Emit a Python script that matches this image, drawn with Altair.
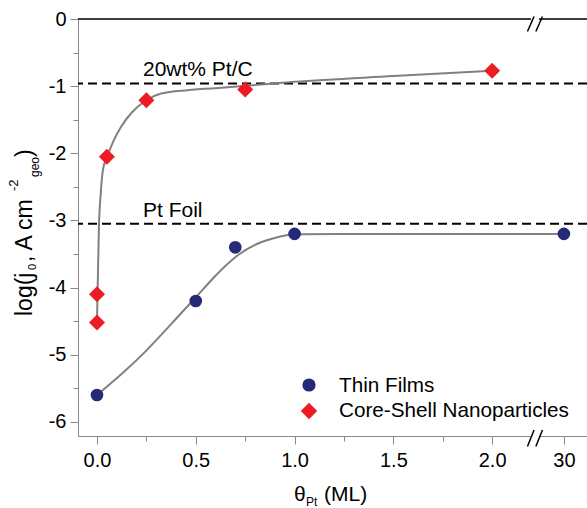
import altair as alt
import pandas as pd

# ---------------- data ----------------
TF_X = [0.0, 0.5, 0.7, 1.0, 30.0]
TF_Y = [-5.6, -4.2, -3.4, -3.2, -3.2]
CS_X = [0.0, 0.0, 0.05, 0.25, 0.75, 2.0]
CS_Y = [-4.52, -4.1, -2.05, -1.21, -1.05, -0.77]

TF_FIT_X = [0.0, 0.12, 0.24, 0.41, 0.5, 0.58, 0.70, 0.83, 0.98, 1.0, 30.0]
TF_FIT_Y = [-5.6, -5.3, -4.98, -4.43, -4.15, -3.88, -3.52, -3.30, -3.205, -3.2, -3.2]
CS_FIT_X = [0.0, 0.003, 0.010, 0.019, 0.030, 0.052, 0.086, 0.123, 0.174, 0.25,
            0.325, 0.46, 0.6, 0.75, 1.0, 1.5, 2.0]
CS_FIT_Y = [-4.52, -4.09, -3.09, -2.60, -2.25, -2.05, -1.80, -1.60, -1.40, -1.21,
            -1.11, -1.06, -1.03, -0.995, -0.935, -0.85, -0.77]

REF_NAMES = ["20wt% Pt/C", "Pt Foil"]
REF_Y = [-0.96, -3.05]
SERIES = ["Thin Films", "Core-Shell Nanoparticles"]
COLORS = ["#242a78", "#ec1c24"]

X_TICKS = [0.0, 0.5, 1.0, 1.5, 2.0, 30.0]
X_TICK_LABELS = ["0.0", "0.5", "1.0", "1.5", "2.0", "30"]
X_MINOR = [0.25, 0.75, 1.25, 1.75]
Y_TICKS = [-6, -5, -4, -3, -2, -1, 0]
Y_MINOR = [-5.5, -4.5, -3.5, -2.5, -1.5, -0.5]

# ---------------- broken x axis mapping ----------------
BREAK_AT = 2.1      # real values above this sit after the break
POS_30 = 2.363      # display position of 30
BREAK_POS = 2.2166  # display position of the "//" marks
X_DOMAIN = [-0.096, 2.48]
Y_DOMAIN = [-6.21, 0.0]


def disp(v):
    return v if v <= BREAK_AT else POS_30 + (v - 30.0) * 0.01


FONT = "Liberation Sans"
W, H = 509, 417
PAD_L, PAD_T = 78, 19

x_tick_pos = [disp(v) for v in X_TICKS]
all_x_ticks = sorted(x_tick_pos + X_MINOR)
label_map = "{" + ",".join(f"'{p:.4f}':'{l}'" for p, l in zip(x_tick_pos, X_TICK_LABELS)) + "}"
x_label_expr = f"({label_map})[format(datum.value,'.4f')] || ''"

X_SCALE = alt.Scale(domain=X_DOMAIN, nice=False, zero=False)
Y_SCALE = alt.Scale(domain=Y_DOMAIN, nice=False, zero=False)
minor_x_test = "indexof([" + ",".join(str(v) for v in X_MINOR) + "], datum.value) >= 0"
X_AXIS = alt.Axis(values=all_x_ticks, labelExpr=x_label_expr, title=None, grid=False,
                  tickSize={"condition": {"test": minor_x_test, "value": 5}, "value": 8},
                  labelPadding=6, labelFontSize=20)
Y_AXIS = alt.Axis(values=sorted(Y_TICKS + Y_MINOR),
                  labelExpr="datum.value % 1 === 0 ? '' + datum.value : ''",
                  title=None, grid=False,
                  tickSize={"condition": {"test": "datum.value % 1 !== 0", "value": 5}, "value": 8},
                  labelPadding=4, labelFontSize=20)


def xf(f):
    return alt.X(f, type="quantitative", scale=X_SCALE, axis=X_AXIS)


def yf(f):
    return alt.Y(f, type="quantitative", scale=Y_SCALE, axis=Y_AXIS)


def xd(v):
    return alt.XDatum(v, type="quantitative", scale=X_SCALE, axis=X_AXIS)


def yd(v):
    return alt.YDatum(v, type="quantitative", scale=Y_SCALE, axis=Y_AXIS)


tf = pd.DataFrame({"x": [disp(v) for v in TF_X], "y": TF_Y})
cs = pd.DataFrame({"x": [disp(v) for v in CS_X], "y": CS_Y})
tf_fit = pd.DataFrame({"x": [disp(v) for v in TF_FIT_X], "y": TF_FIT_Y})
cs_fit = pd.DataFrame({"x": [disp(v) for v in CS_FIT_X], "y": CS_FIT_Y})
refs = pd.DataFrame({"name": REF_NAMES, "y": REF_Y})

one = alt.Data(values=[{}])

layers = []

# reference dashed lines
layers.append(alt.Chart(refs).mark_rule(color="black", strokeWidth=2, strokeDash=[9, 5])
              .encode(y=yf("y")))

# top frame line
layers.append(alt.Chart(one).mark_rule(color="black", strokeWidth=1.5).encode(y=yd(0.0)))

# fit curves
layers.append(alt.Chart(tf_fit).mark_line(color="#808080", strokeWidth=2, interpolate="basis")
              .encode(x=xf("x"), y=yf("y")))
layers.append(alt.Chart(cs_fit).mark_line(color="#808080", strokeWidth=2, interpolate="monotone")
              .encode(x=xf("x"), y=yf("y")))

# points
layers.append(alt.Chart(tf).mark_point(shape="circle", filled=True, opacity=1, size=160,
                                       color=COLORS[0])
              .encode(x=xf("x"), y=yf("y")))
layers.append(alt.Chart(cs).mark_point(shape="diamond", filled=True, opacity=1, size=256,
                                       color=COLORS[1])
              .encode(x=xf("x"), y=yf("y")))

# axis breaks (white gap + two slashes) on top and bottom lines
for yv, up, down in [(Y_DOMAIN[1], -2.5, 12.5), (Y_DOMAIN[0], -6, 10.5)]:
    layers.append(alt.Chart(one).mark_rule(color="white", strokeWidth=4, xOffset=-4, x2Offset=4)
                  .encode(x=xd(BREAK_POS), x2=alt.X2Datum(BREAK_POS), y=yd(yv), y2=alt.Y2Datum(yv)))
    for c in (-4.2, 4.2):
        layers.append(alt.Chart(one).mark_rule(color="black", strokeWidth=1.5,
                                               xOffset=c - 3.3, x2Offset=c + 3.3,
                                               yOffset=down, y2Offset=up)
                      .encode(x=xd(BREAK_POS), x2=alt.X2Datum(BREAK_POS),
                              y=yd(yv), y2=alt.Y2Datum(yv)))


def txt(s, xa, ya, size, angle=0, align="left"):
    props = dict(text=s, font=FONT, fontSize=size, color="black", align=align,
                 baseline="alphabetic")
    if angle:
        props["angle"] = angle
    return alt.Chart(one).mark_text(**props).encode(
        x=alt.value(xa - PAD_L), y=alt.value(ya - PAD_T))


# reference labels
layers.append(txt(REF_NAMES[0], 143, 76, 21))
layers.append(txt(REF_NAMES[1], 143, 216.5, 21))

# legend
layers.append(alt.Chart(one).mark_point(shape="circle", filled=True, opacity=1, size=175,
                                        color=COLORS[0])
              .encode(x=alt.value(309 - PAD_L), y=alt.value(385 - PAD_T)))
layers.append(alt.Chart(one).mark_point(shape="diamond", filled=True, opacity=1, size=270,
                                        color=COLORS[1])
              .encode(x=alt.value(309 - PAD_L), y=alt.value(411 - PAD_T)))
layers.append(txt(SERIES[0], 339, 392, 20.7))
layers.append(txt(SERIES[1], 339, 417, 20.7))

# y axis title: log(j0, A cm-2 geo)
layers.append(txt("log(j", 31.5, 316, 23, angle=270))
layers.append(txt("0", 35.5, 270, 11, angle=270))
layers.append(txt(", A cm", 31.5, 262, 23, angle=270))
layers.append(txt("-2", 17.5, 191, 13, angle=270))
layers.append(txt("geo", 38.5, 177, 12, angle=270))
layers.append(txt(")", 31.5, 157, 23, angle=270))

# x axis title: θPt (ML)
layers.append(txt("θ", 294, 501, 21))
layers.append(txt("Pt", 306, 506, 12))
layers.append(txt("(ML)", 324, 501, 21))

chart = alt.layer(*layers).properties(
    width=W, height=H,
    autosize=alt.AutoSizeParams(type="none"),
    padding={"left": PAD_L, "top": PAD_T, "right": 0, "bottom": 508 - PAD_T - H},
).configure_view(stroke=None).configure_axis(
    domainColor="black", domainWidth=1.5, tickColor="black", tickWidth=1.5,
    labelColor="black", labelFont=FONT,
).configure(background="white")

chart.save("out.html", embed_options={"renderer": "svg", "actions": False})
